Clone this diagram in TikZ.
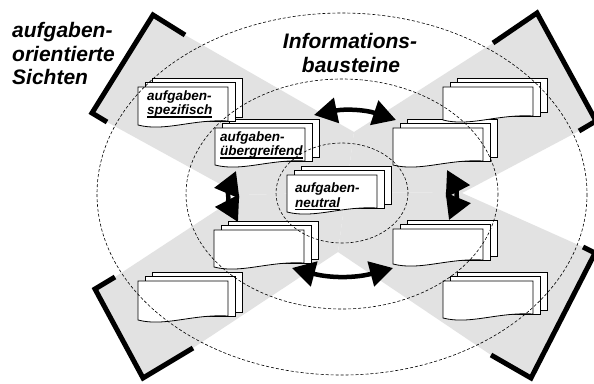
\documentclass[tikz,border=0pt]{standalone}
\usepackage{fontspec}
\setmainfont{Liberation Sans}
\usetikzlibrary{arrows.meta}
\definecolor{wedgegray}{RGB}{226,226,226}

\newcommand\thul[1]{\setbox0\hbox{#1}\rlap{\rule[-3.4pt]{\wd0}{1.7pt}}\box0}

% #1 x, #2 y (top-left of front sheet), #3 left height, #4 name
\newcommand\DocStack[4]{%
  \begin{scope}[shift={(#1,#2)}]
    \coordinate (#4) at (0,0);
    \draw[sheet] (14,-9) rectangle (104,#3-8);
    \draw[sheet] (7,-5) rectangle (97,#3-4);
    \draw[sheet] (0,0) -- (90,0) -- (90,#3-4)
      .. controls (54,#3-6) and (27,#3+7) .. (0,#3) -- cycle;
  \end{scope}}

\begin{document}
\begin{tikzpicture}[x=1pt,y=-1pt,
  sheet/.style={draw=black, fill=white, line width=0.8pt},
  bracket/.style={line width=5pt, line join=miter},
  wedge/.style={fill=wedgegray, draw=none},
  ring/.style={dash pattern=on 3pt off 2pt, line width=0.6pt},
  dbl/.style={line width=4.5pt,
    {Triangle[length=23pt,width=25pt]}-{Triangle[length=23pt,width=25pt]}},
  vdbl/.style={line width=4.5pt,
    {Triangle[length=24pt,width=26pt]}-{Triangle[length=24pt,width=26pt]}},
  title/.style={font=\fontsize{21}{24}\selectfont\bfseries\itshape,
    inner sep=0pt},
  lbl/.style={font=\fontsize{13.5}{15}\selectfont\bfseries\itshape,
    inner sep=0pt, anchor=base west}]

\useasboundingbox (0,0) rectangle (594,383);
\fill[white] (0,0) rectangle (594,383);

% grey view wedges
\coordinate (ctr) at (346,192);
\coordinate (nT) at (354,132);
\coordinate (nR) at (462,193);
\coordinate (nB) at (338,252);
\coordinate (nL) at (240,195);
\fill[wedge] (153,15) -- (185,35) -- (nT) -- (ctr) -- (nL) -- (107,122) -- (92,113) -- cycle;
\fill[wedge] (537,13) -- (493,43) -- (nT) -- (ctr) -- (nR) -- (579,131) -- (596,121) -- cycle;
\fill[wedge] (95,289) -- (115,277) -- (nL) -- (ctr) -- (nB) -- (193,348) -- (143,378) -- cycle;
\fill[wedge] (595,253) -- (583,247) -- (nR) -- (ctr) -- (nB) -- (491,355) -- (531,378) -- cycle;

% brackets
\draw[bracket] (185,35) -- (153,15) -- (92,113) -- (107,122);
\draw[bracket] (493,43) -- (537,13) -- (596,121) -- (579,131);
\draw[bracket] (115,277) -- (95,289) -- (143,378) -- (193,348);
\draw[bracket] (583,247) -- (595,253) -- (531,378) -- (491,355);

% document stacks
\DocStack{215}{128}{37}{d2}
\DocStack{138}{87}{38}{d1}
\DocStack{287}{175}{37}{d3}
\DocStack{393}{128}{37}{d4}
\DocStack{443}{87}{33}{d5}
\DocStack{393}{229}{35}{d6}
\DocStack{443}{281}{37}{d7}
\DocStack{214}{230}{37}{d8}
\DocStack{138}{281}{39}{d9}

% dashed rings
\draw[ring] (342,194) ellipse [x radius=245, y radius=181];
\draw[ring] (342,194) ellipse [x radius=156, y radius=115];
\draw[ring] (342,193) ellipse [x radius=66, y radius=50];

% labels in documents
\node[lbl] (l1a) at (147,100) {aufgaben-};
\node[lbl] (l1b) at (147,114.5) {\thul{spezifisch}};
\node[lbl] (l2a) at (220,141) {aufgaben-};
\node[lbl] (l2b) at (220,155.5) {\thul{übergreifend}};
\node[lbl] (l3a) at (295,192) {aufgaben-};
\node[lbl] (l3b) at (295,207) {\thul{neutral}};

% titles
\node[title, anchor=base west] (t1) at (12,37) {aufgaben-};
\node[title, anchor=base west] (t2) at (12,61) {orientierte};
\node[title, anchor=base west] (t3) at (12,84) {Sichten};
\node[title, anchor=base] (t4) at (350,48) {Informations-};
\node[title, anchor=base] (t5) at (351,72) {bausteine};

% double arrows
\coordinate (ta1) at (314,115);
\coordinate (ta2) at (396,120);
\coordinate (ba1) at (292,268);
\coordinate (ba2) at (393,268);
\coordinate (la1) at (236,171);
\coordinate (la2) at (238,222);
\coordinate (ra1) at (447,170);
\coordinate (ra2) at (449,220);
\draw[dbl] (ta1) to[bend left=15] (ta2);
\draw[dbl] (ba1) to[bend right=15] (ba2);
\draw[vdbl] (la1) to[bend right=25] (la2);
\draw[vdbl] (ra1) to[bend left=25] (ra2);
\end{tikzpicture}
\end{document}
